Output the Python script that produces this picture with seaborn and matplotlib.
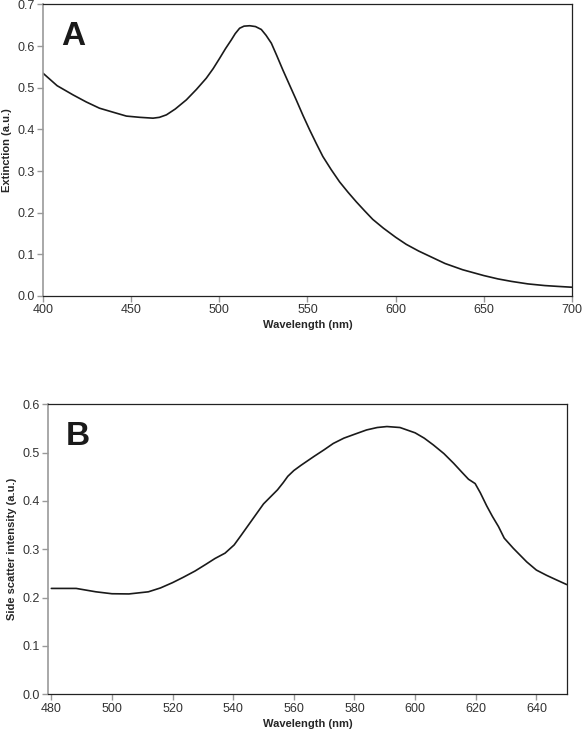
import numpy as np
import pandas as pd
import matplotlib
matplotlib.use("Agg")
import matplotlib.pyplot as plt
import seaborn as sns

# panel A: extinction spectrum
wl_a = [400, 408, 417, 424.5, 432, 440, 447.3, 455, 462.4, 466, 470, 475, 481.3, 487, 492.6,
        496.5, 500.2, 503.5, 506.8, 509, 511.5, 514, 517.2, 520.5, 523.8, 526.5, 529.5, 532.5,
        536, 540, 543.6, 547.5, 551.2, 555, 558.7, 563.5, 568.2, 573, 577.7, 582.5, 587, 593,
        600, 606, 613, 620, 628, 638, 650, 658, 665.7, 675, 684.6, 692, 700]
ext_a = [0.535, 0.505, 0.483, 0.466, 0.451, 0.441, 0.432, 0.429, 0.427, 0.429, 0.435, 0.449,
         0.471, 0.496, 0.523, 0.546, 0.571, 0.594, 0.615, 0.630, 0.643, 0.648, 0.649, 0.647,
         0.640, 0.626, 0.607, 0.578, 0.543, 0.505, 0.471, 0.433, 0.399, 0.366, 0.335, 0.303,
         0.274, 0.249, 0.226, 0.204, 0.184, 0.163, 0.141, 0.124, 0.108, 0.094, 0.078, 0.063,
         0.049, 0.041, 0.035, 0.029, 0.025, 0.023, 0.021]

# panel B: side scatter spectrum
wl_b = [480, 488.2, 494.7, 500, 505.6, 512, 516, 520, 523.5, 527.4, 531, 534, 537.3, 540.3,
        542.5, 545, 547.5, 550, 554.6, 556.5, 558, 560, 562.4, 566.6, 570, 573, 576.5, 580,
        584, 587.5, 590.7, 595, 600, 603, 606, 609.5, 612.7, 615.5, 617.6, 619.8, 621.5,
        623.6, 625.5, 627.5, 629.4, 632.4, 636.8, 640, 643.4, 646.5, 650]
sca_b = [0.219, 0.219, 0.212, 0.208, 0.2076, 0.212, 0.220, 0.231, 0.242, 0.255, 0.269, 0.281,
         0.292, 0.309, 0.328, 0.350, 0.372, 0.394, 0.423, 0.438, 0.451, 0.463, 0.474, 0.492,
         0.506, 0.519, 0.530, 0.538, 0.547, 0.552, 0.554, 0.552, 0.541, 0.530, 0.516, 0.498,
         0.478, 0.459, 0.445, 0.436, 0.417, 0.390, 0.368, 0.347, 0.323, 0.302, 0.274, 0.257,
         0.246, 0.237, 0.227]

df_a = pd.DataFrame({"wl": wl_a, "val": ext_a})
df_b = pd.DataFrame({"wl": wl_b, "val": sca_b})

sns.set_style("ticks")
plt.rcParams['font.family'] = ['Liberation Sans', 'DejaVu Sans']

fig = plt.figure(figsize=(5.82, 7.37), dpi=100)
ax1 = fig.add_axes([0.0739, 0.5984, 0.9089, 0.3955])
ax2 = fig.add_axes([0.0830, 0.0580, 0.8907, 0.3934])


def style_axis(ax):
    for side in ["top", "right", "bottom"]:
        ax.spines[side].set_color("#222222")
        ax.spines[side].set_linewidth(0.9)
    ax.spines["left"].set_color("#999999")
    ax.spines["left"].set_linewidth(1.2)
    ax.tick_params(direction="out", length=4, width=1, color="#999999",
                   labelsize=9, labelcolor="#333333", pad=2)


sns.lineplot(data=df_a, x="wl", y="val", ax=ax1, color="#1a1a1a", linewidth=1.2)
ax1.set_xlim(400, 700)
ax1.set_ylim(0, 0.7)
ax1.set_xticks(np.arange(400, 701, 50))
ax1.set_yticks(np.arange(0, 0.71, 0.1))
ax1.set_yticklabels([f"{v:.1f}" for v in np.arange(0, 0.71, 0.1)])
ax1.set_xlabel("Wavelength (nm)", fontsize=8, fontweight="bold", labelpad=3)
ax1.set_ylabel("Extinction (a.u.)", fontsize=8, fontweight="bold", labelpad=4)
ax1.text(0.034, 0.86, "A", transform=ax1.transAxes, fontsize=24, fontweight="bold",
         color="#1a1a1a")
style_axis(ax1)

sns.lineplot(data=df_b, x="wl", y="val", ax=ax2, color="#1a1a1a", linewidth=1.2)
ax2.set_xlim(479, 650)
ax2.set_ylim(0, 0.6)
ax2.set_xticks(np.arange(480, 641, 20))
ax2.set_yticks(np.arange(0, 0.61, 0.1))
ax2.set_yticklabels([f"{v:.1f}" for v in np.arange(0, 0.61, 0.1)])
ax2.set_xlabel("Wavelength (nm)", fontsize=8, fontweight="bold", labelpad=3)
ax2.set_ylabel("Side scatter intensity (a.u.)", fontsize=8, fontweight="bold", labelpad=4)
ax2.text(0.034, 0.86, "B", transform=ax2.transAxes, fontsize=24, fontweight="bold",
         color="#1a1a1a")
style_axis(ax2)

fig.savefig("out.png", dpi=100)
